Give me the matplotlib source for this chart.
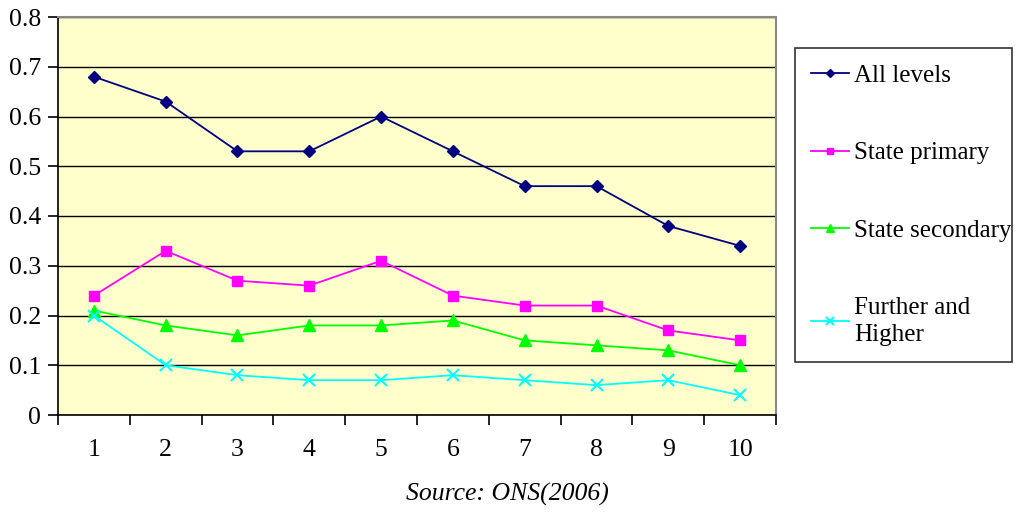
import matplotlib.pyplot as plt
from matplotlib.ticker import FixedLocator, NullFormatter

# data
years = [1, 2, 3, 4, 5, 6, 7, 8, 9, 10]
all_levels = [0.68, 0.63, 0.53, 0.53, 0.60, 0.53, 0.46, 0.46, 0.38, 0.34]
state_primary = [0.24, 0.33, 0.27, 0.26, 0.31, 0.24, 0.22, 0.22, 0.17, 0.15]
state_secondary = [0.21, 0.18, 0.16, 0.18, 0.18, 0.19, 0.15, 0.14, 0.13, 0.10]
further_higher = [0.20, 0.10, 0.08, 0.07, 0.07, 0.08, 0.07, 0.06, 0.07, 0.04]
labels = ["All levels", "State primary", "State secondary", "Further and\nHigher"]

plt.rcParams['font.family'] = ['Liberation Serif', 'DejaVu Serif']
FS = 18.5

fig = plt.figure(figsize=(10.15, 5.16), dpi=100)
ax = fig.add_axes([58 / 1015, 1 - 415 / 516, (776 - 58) / 1015, (415 - 17) / 516])
ax.set_facecolor('#FFFFCC')

series = [
    (all_levels, '#000080', 'D', 6),
    (state_primary, '#FF00FF', 's', 7),
    (state_secondary, '#00FF00', '^', 8),
    (further_higher, '#00FFFF', 'x', 8),
]
handles = []
for (vals, col, mk, ms), lab in zip(series, labels):
    h, = ax.plot(years, vals, color=col, marker=mk, markersize=ms, lw=1.3,
                 markeredgewidth=1.5 if mk == 'x' else 1, label=lab, zorder=3)
    handles.append(h)

ax.set_xlim(0.5, 10.5)
ax.set_ylim(0, 0.8)
ax.set_yticks([i / 10 for i in range(9)])
ax.set_yticklabels(['0'] + ['%.1f' % (i / 10) for i in range(1, 9)])
ax.grid(axis='y', color='black', lw=1, zorder=1)
ax.set_axisbelow(True)

ax.set_xticks(years)
ax.xaxis.set_minor_locator(FixedLocator([x + 0.5 for x in range(0, 11)]))
ax.xaxis.set_minor_formatter(NullFormatter())
ax.tick_params(axis='x', which='major', length=0, pad=17, labelsize=FS)
ax.tick_params(axis='x', which='minor', length=7, width=1.2, direction='out')
ax.tick_params(axis='y', length=7, width=1.2, direction='out', labelsize=FS, pad=5)

for s in ['top', 'right']:
    ax.spines[s].set_color('#888888')
    ax.spines[s].set_linewidth(1.5)
for s in ['left', 'bottom']:
    ax.spines[s].set_color('black')
    ax.spines[s].set_linewidth(1.2)

leg = fig.legend(handles=handles, loc='upper left', mode='expand',
                 bbox_to_anchor=(795 / 1015, 1 - 362 / 516, 217 / 1015, 314 / 516),
                 fontsize=18, frameon=True, fancybox=False, edgecolor='black',
                 labelspacing=2.2, handlelength=1.5, handletextpad=0.2,
                 borderpad=0.65, borderaxespad=0, markerscale=0.7)
leg.get_frame().set_linewidth(1.2)
for t in leg.get_texts():
    t.set_linespacing(1.3)

fig.text(507 / 1015, 1 - 494 / 516, 'Source: ONS(2006)', style='italic',
         fontsize=FS, ha='center', va='center')

fig.savefig('out.png', dpi=100)
